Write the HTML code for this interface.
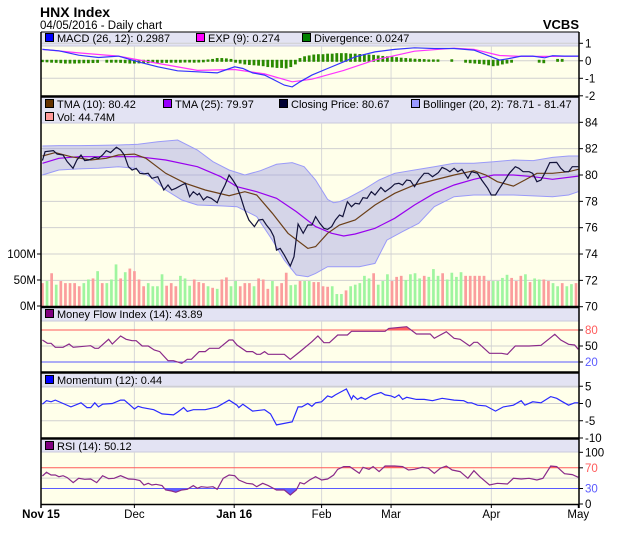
<!DOCTYPE html>
<html><head><meta charset="utf-8"><style>
html,body{margin:0;padding:0;background:#fff;}
svg{display:block;font-family:"Liberation Sans",Arial,sans-serif;}
</style></head><body>
<svg id="chart" width="620" height="535" viewBox="0 0 620 535" xmlns="http://www.w3.org/2000/svg">
<text x="40" y="17" font-size="14" font-weight="bold">HNX Index</text>
<text x="40" y="29" font-size="11.5">04/05/2016 - Daily chart</text>
<text x="579" y="29" font-size="13" font-weight="bold" text-anchor="end">VCBS</text>
<g id="layer"></g>
</svg>
<script>
// ---------- DATA ----------
const monthLabels = ["Nov 15","Dec","Jan 16","Feb","Mar","Apr","May"];
const monthDays = [0,20.3,42.0,61.0,76.1,97.9,116.8];
const monthBold = [1,0,1,0,0,0,0];

const priceT = [0.3,0.9,2.7,3.5,4.8,5.7,6.95,7.8,8.7,9.5,10.4,11.7,12.5,13.4,14.2,15.1,16.4,17.3,18.1,19.0,19.8,20.7,21.5,22.4,23.3,24.1,25.4,26.7,27.6,28.4,29.3,30.6,31.4,32.3,33.1,34.0,34.4,35.3,36.1,37.0,38.3,39.1,40.0,40.9,41.7,42.6,43.4,44.3,45.2,46.4,47.3,48.2,49.0,49.9,50.6,51.2,52.0,52.9,54.2,55.0,55.9,57.0,58.0,58.9,59.7,60.6,61.5,62.3,63.2,64.0,64.9,65.6,66.6,67.5,68.3,69.2,70.0,70.9,71.8,72.6,73.9,74.8,76.1,76.9,77.8,78.6,79.5,80.3,81.2,82.1,83.3,84.2,85.1,86.4,87.2,88.1,88.9,89.8,90.6,91.5,92.8,93.6,94.9,95.8,97.1,97.9,98.8,99.7,100.9,101.8,103.1,103.9,104.8,106.1,106.9,107.8,108.7,109.5,110.6,112.1,113.0,113.8,114.7,115.5,116.8];
const priceV = [81.09,81.77,81.85,81.59,81.52,81.01,80.51,81.14,81.52,81.09,81.14,81.34,81.27,81.52,81.85,81.70,82.10,81.90,81.52,80.63,80.38,80.51,80.13,80.08,80.13,79.75,79.87,78.86,79.24,78.86,78.99,79.24,79.37,78.35,78.73,78.48,78.61,78.10,78.35,78.23,77.90,78.61,79.24,80.00,79.62,79.11,78.35,77.34,76.58,76.08,76.58,76.63,76.20,75.82,75.32,74.30,74.43,73.92,73.09,73.80,76.28,75.57,76.20,76.20,76.84,76.33,75.95,75.87,76.08,76.58,76.96,76.84,77.97,77.59,77.85,77.80,78.28,78.23,78.73,78.48,79.06,78.73,79.06,79.32,79.37,79.24,79.62,79.57,79.11,79.62,80.13,80.13,79.87,80.18,80.58,80.43,80.25,80.51,80.25,80.43,79.75,80.25,80.13,79.62,78.99,78.48,78.48,78.99,79.62,80.13,80.63,80.51,80.25,80.25,80.13,79.49,79.62,80.13,80.94,80.96,80.51,80.25,80.25,80.63,80.63];

const tma10T = [0.3,3.1,6.5,10.8,14.2,16.8,20.3,22.8,27.1,31.4,35.7,40.9,44.3,46.9,50.3,53.7,58.0,59.7,62.3,64.9,68.3,72.6,76.9,81.2,85.5,89.8,94.1,96.7,99.2,102.7,105.2,107.8,111.2,114.7,116.8];
const tma10V = [81.44,81.70,81.39,81.14,81.27,81.52,81.59,81.27,80.13,79.37,78.86,78.43,78.73,78.48,77.09,75.57,74.43,74.56,75.57,76.20,76.58,77.72,78.61,79.24,79.62,80.00,80.33,80.00,79.49,79.16,79.62,80.13,80.13,80.25,80.43];
const tma25T = [0.3,3.9,8.2,16.8,21.1,27.1,34.0,39.1,42.6,46.9,51.2,55.5,59.7,63.2,65.8,68.3,72.6,76.9,81.2,85.5,89.8,94.1,98.4,102.7,107.0,111.2,116.8];
const tma25V = [80.89,81.27,81.39,81.39,81.39,81.14,80.63,79.87,79.11,78.73,78.23,77.22,76.08,75.57,75.37,75.52,75.95,76.71,77.72,78.61,79.24,79.67,80.00,80.00,79.87,79.67,79.92];
const bandUpT = [0.3,3.9,8.2,12.5,16.8,21.1,25.4,29.7,34.0,37.4,40.9,44.3,47.7,51.2,54.6,57.2,59.7,62.3,63.6,64.9,66.6,70.0,73.5,76.9,81.2,85.5,89.8,94.1,98.4,102.7,107.0,111.2,114.7,116.8];
const bandUpV = [82.20,82.23,82.23,82.25,82.28,82.33,82.53,82.66,81.90,81.01,80.38,80.00,80.33,80.81,80.94,80.63,79.62,78.15,77.90,77.97,78.23,78.86,79.62,80.13,80.38,80.63,80.89,80.89,81.01,81.14,81.09,81.34,81.44,81.44];
const bandLoT = [0.3,3.9,8.2,12.5,16.8,20.3,23.7,27.1,30.6,34.0,39.1,42.6,46.9,50.3,52.9,55.5,58.0,59.7,62.3,66.6,69.2,72.6,75.2,78.6,82.1,85.5,89.8,94.1,98.4,102.7,107.0,111.2,114.7,116.8];
const bandLoV = [80.00,80.38,80.46,80.51,80.63,80.51,79.87,78.86,78.10,77.72,77.65,77.59,76.84,75.06,73.54,72.41,72.28,72.53,73.04,73.04,73.04,73.29,75.06,75.70,76.33,77.59,78.35,78.48,78.48,78.48,78.41,78.35,78.48,78.73];

const volumeM = [44,48,63,41,48,44,44,44,38,44,51,53,67,44,44,51,80,53,65,72,67,51,38,44,38,38,61,39,44,38,58,53,39,51,46,44,38,35,33,51,55,38,48,38,44,44,38,53,51,33,48,38,44,64,40,41,48,48,48,46,46,38,37,38,23,23,30,38,41,44,58,53,63,41,48,61,48,56,58,50,61,63,53,58,56,71,58,63,51,64,56,65,58,58,58,58,58,48,48,48,54,60,54,48,58,61,46,53,51,51,48,44,38,44,38,42,44];
const volumeUp = [0,1,0,1,0,0,0,0,0,1,1,0,1,0,1,1,1,0,1,0,0,0,0,1,1,1,1,0,0,0,1,1,1,0,0,0,1,0,1,0,0,1,1,0,0,0,1,0,0,0,1,0,0,0,1,1,0,1,1,0,0,0,0,1,1,1,0,1,1,1,1,1,0,1,1,1,0,0,0,1,1,1,1,0,1,1,1,0,1,1,1,1,0,0,0,0,0,0,1,1,1,1,0,0,0,1,0,1,1,0,0,1,1,0,1,1,0];

const macdT = [0.3,3.9,8.2,12.5,16.8,21.1,25.4,29.7,34.0,38.3,40.4,42.1,43.9,46.0,48.6,51.2,52.9,54.6,56.3,58.9,62.3,65.8,68.3,72.6,76.9,81.2,85.5,89.8,94.1,97.5,99.7,101.8,104.4,106.9,109.5,111.2,113.8,116.8];
const macdV = [0.65,0.57,0.32,0.19,0.27,-0.06,-0.34,-0.57,-0.63,-0.69,-0.50,-0.34,-0.44,-0.69,-0.82,-1.16,-1.39,-1.49,-1.20,-0.82,-0.44,-0.06,0.23,0.51,0.65,0.74,0.70,0.70,0.61,0.27,0.04,0.13,0.27,0.27,0.17,0.29,0.27,0.27];
const expT = [0.3,8.2,16.8,25.4,34.0,42.1,48.6,54.6,58.9,65.8,72.6,81.2,89.8,94.1,99.7,104.4,111.2,116.8];
const expV = [0.65,0.45,0.27,-0.15,-0.55,-0.50,-0.75,-1.20,-1.05,-0.55,0.05,0.55,0.72,0.65,0.30,0.25,0.25,0.27];
const divergenceV = [-0.02,-0.03,-0.05,-0.06,-0.08,-0.10,-0.10,-0.10,-0.09,-0.08,-0.08,-0.07,-0.06,0,-0.05,-0.05,-0.05,-0.06,-0.08,-0.10,-0.10,-0.09,-0.08,-0.08,-0.07,-0.07,-0.06,-0.06,-0.05,-0.05,-0.05,-0.04,-0.04,-0.05,-0.04,-0.03,0.02,0.05,0.10,0.10,0.08,0.05,-0.05,-0.10,-0.15,-0.18,-0.20,-0.22,-0.25,-0.30,-0.32,-0.35,-0.35,-0.38,-0.30,-0.15,0.10,0.20,0.25,0.30,0.32,0.32,0.35,0.35,0.38,0.38,0.38,0.35,0.35,0.33,0.32,0.30,0.28,0.25,0.22,0.20,0.18,0.15,0.12,0.10,0.08,0.06,0.05,0.04,0.02,0.02,0.02,0,0,0.03,0,0,-0.05,-0.08,-0.10,-0.12,-0.15,-0.20,-0.25,-0.22,-0.15,-0.10,-0.05,0,0,0,0,0,-0.05,-0.08,0,0,0.05,0.05,0,0,0];

const mfiT = [0.3,1.4,2.2,3.1,4.8,6.1,7.0,10.8,11.7,12.5,14.7,15.5,17.3,18.5,19.8,20.7,22.0,23.3,24.6,25.8,27.6,28.8,30.6,31.8,32.7,34.4,35.7,36.6,38.7,40.9,41.7,42.6,44.7,46.0,46.9,47.7,48.6,49.4,51.1,52.9,54.2,56.3,58.9,60.2,61.5,62.7,64.5,66.6,67.5,70.9,74.8,75.6,79.5,81.6,83.8,84.6,85.5,88.1,89.8,91.1,93.2,94.1,94.9,97.5,100.1,101.4,103.1,106.1,108.7,111.7,113.0,114.7,116.0,116.8];
const mfiV = [61.3,55,55,47.5,47.5,53.75,47.5,50.6,45.6,45.6,62.5,53.75,68.8,62.5,60,60,50,50,42.5,39.4,22.5,22.5,17.5,25,25,39.4,39.4,45.6,45.6,61.3,61.3,51.9,39.4,39.4,34.4,34.4,39.4,34.4,34.4,34.4,25,39.4,58.1,68.8,56.25,56.25,70.6,70.6,77.5,77.5,77.5,83.1,86.3,72.5,72.5,72.5,64.4,76.9,64.4,62.5,50,56.9,56.9,36.3,36.3,34.4,50,50,51.3,71.9,61.3,53.1,51.9,43.75];

const momT = [0.3,1.2,2.2,3.1,4.8,6.5,8.7,10.0,10.8,11.7,12.5,13.4,15.5,17.3,18.1,19.4,20.3,21.1,22.0,24.5,26.3,28.8,29.7,31.0,31.8,33.1,35.7,38.3,40.9,42.6,43.0,43.9,46.0,48.6,49.9,51.2,54.6,55.9,56.7,58.0,58.9,59.7,61.0,62.3,63.2,64.0,65.8,66.4,67.5,67.9,68.8,69.6,70.5,72.2,73.9,74.8,76.1,76.9,77.8,78.6,79.5,81.6,83.3,85.1,87.2,89.8,91.9,92.8,93.6,94.9,96.7,98.8,100.5,102.7,104.4,105.2,106.9,108.7,110.8,112.1,113.4,114.7,116.0,116.8];
const momV = [-0.2,0.8,0.5,1.0,0,-1.0,0.2,-1.2,-1.2,0.2,-1.0,-0.2,0,1.0,1.0,-0.5,-1.6,-0.8,-1.2,-1.8,-3.0,-3.3,-2.5,-1.2,-2.3,-1.8,-1.8,-1.0,1.0,-0.5,-1.2,-0.2,-2.2,-1.8,-3.0,-6.2,-5.3,-1.0,-1.0,0,-0.8,0.2,0.5,2.2,1.8,2.5,3.8,4.2,1.2,2.3,1.2,1.8,1.2,2.5,3.2,2.5,2.2,1.7,2.5,1.2,1.8,1.2,1.2,0.8,1.5,1.0,0.8,0.2,0.2,-0.5,-0.7,-2.2,-1.0,-0.5,0.8,-0.5,0.5,0.2,2.0,1.5,0.5,-0.5,0.2,0.2];

const rsiT = [0.3,1.2,2.2,3.1,3.9,4.8,5.7,7.0,8.2,9.5,10.8,12.1,13.4,14.7,15.9,17.3,19.0,20.3,21.5,22.4,23.3,24.1,25.0,26.3,27.1,28.4,29.3,30.6,31.8,33.1,34.0,34.8,36.1,37.4,38.3,39.6,40.9,42.1,43.0,44.7,46.0,46.9,48.2,49.4,51.2,52.9,54.2,55.5,56.3,57.2,58.4,59.7,61.0,62.3,63.6,64.5,65.8,67.1,69.2,70.0,71.3,72.2,73.5,74.8,76.9,78.6,79.9,81.2,82.9,84.2,85.5,86.8,88.1,89.4,91.1,92.8,94.1,95.4,97.5,99.2,101.4,102.7,104.4,106.1,107.8,109.1,110.8,112.1,113.8,115.5,116.8];
const rsiV = [54.2,61.3,56.1,56.1,52.9,54.8,51,41.3,49.7,47.7,48.4,41.3,54.8,49,49.7,54.8,48.4,47.7,45.2,36.8,40,36.8,38.1,35.5,27.1,25.2,22.6,27.1,28.4,35.5,30.3,33.5,32.3,33.5,28.4,49.7,56.1,54.8,46.5,40,38.7,33.5,40,35.5,27.1,27.1,17.4,27.1,41.3,38.7,46.5,52.9,46.5,48.4,56.1,67.1,72.3,72.3,59.4,71,67.1,72.3,62.6,73.5,73.5,72.3,65.8,67.1,71,69,59.4,69,73.5,65.8,62.6,49.7,64.5,52.9,36.8,40,38.7,49.7,48.4,49.7,46.5,49.7,73.5,72.3,58.7,56.8,51.6];

// ---------- LAYOUT ----------
const NS = "http://www.w3.org/2000/svg";
const L = 41, R = 579;
const xT = t => L + t * 4.6;
const yPrice = v => 175 - (v - 80) * 13.17;
const yVol = m => 306 - m * 0.52;
const yMacd = v => 60.8 - v * 17.5;
const yMfi = v => 346 - (v - 50) * 0.533;
const yMom = v => 403.5 - v * 3.45;
const yRsi = v => 504 - v * 0.517;
const layer = document.getElementById("layer");

function mk(tag, attrs, parent) {
  const e = document.createElementNS(NS, tag);
  for (const k in attrs) e.setAttribute(k, attrs[k]);
  (parent || layer).appendChild(e);
  return e;
}
function pts(T, V, yf) { return T.map((t, i) => xT(t).toFixed(1) + "," + yf(V[i]).toFixed(1)).join(" "); }

const panels = [
  {name: "macd-panel", top: 32, head: 46, bottom: 96},
  {name: "price-panel", top: 97, head: 123, bottom: 306},
  {name: "mfi-panel", top: 308, head: 321, bottom: 372},
  {name: "momentum-panel", top: 374, head: 387, bottom: 438},
  {name: "rsi-panel", top: 440, head: 452, bottom: 504}
];
panels.forEach(p => {
  const h = mk("rect", {x: L, y: p.top, width: R - L, height: p.head - p.top, fill: "#e3e3f3"});
  
  
  const b = mk("rect", {x: L, y: p.head, width: R - L, height: p.bottom - p.head, fill: "#ffffea"});
  
  
  mk("line", {x1: L, y1: p.head, x2: R, y2: p.head, stroke: "#c8c8dc", "stroke-width": 1});
});
monthDays.forEach((d, i) => {
  if (i === 0 || i === monthDays.length - 1) return;
  panels.forEach(p => mk("line", {x1: xT(d), y1: p.head, x2: xT(d), y2: p.bottom, stroke: "#d8d8d8", "stroke-width": 1}));
});

function hgrid(y, color) { mk("line", {x1: L, y1: y, x2: R, y2: y, stroke: color || "#d0d0d0", "stroke-width": 1}); }
function rlabel(y, txt, color, name) {
  mk("line", {x1: R, y1: y, x2: R + 4, y2: y, stroke: "#000"});
  const t = mk("text", {x: R + 6, y: y + 4, "font-size": 11.5, fill: color || "#000"});
  t.textContent = txt;
  
  
}

// ---------- MACD panel ----------
[1, 0, -1].forEach(v => hgrid(yMacd(v)));
[1, 0, -1, -2].forEach(v => rlabel(yMacd(v), String(v), null, 'macd-axis-tick'));
divergenceV.forEach((v, i) => {
  if (v === 0) return;
  const y0 = yMacd(0), y1 = yMacd(v);
  const r = mk("rect", {x: xT(i + 0.3) - 1.4, y: Math.min(y0, y1) - 1, width: 2.8, height: Math.abs(y1 - y0) + 2, fill: "#2a8a00"});
  
  
});
let e1 = mk("polyline", {points: pts(expT, expV, yMacd), fill: "none", stroke: "#ff33ff", "stroke-width": 1.2});


let m1 = mk("polyline", {points: pts(macdT, macdV, yMacd), fill: "none", stroke: "#3333ff", "stroke-width": 1.2});



// ---------- Price panel ----------
[72, 74, 76, 78, 80, 82].forEach(v => hgrid(yPrice(v)));
[70, 72, 74, 76, 78, 80, 82, 84].forEach(v => rlabel(yPrice(v), String(v), null, 'price-axis-tick'));
[[0, "0M"], [50, "50M"], [100, "100M"]].forEach(a => {
  mk("line", {x1: L - 4, y1: yVol(a[0]), x2: L, y2: yVol(a[0]), stroke: "#000"});
  const t = mk("text", {x: L - 5, y: yVol(a[0]) + 4, "font-size": 11.5, "text-anchor": "end"});
  t.textContent = a[1];
  
  
});
volumeM.forEach((v, i) => {
  const r = mk("rect", {x: xT(i + 0.3) - 1.3, y: yVol(v), width: 2.7, height: 306 - yVol(v), fill: volumeUp[i] ? "#9ff59f" : "#fb9d9d"});
  
  
});
const bandPts = pts(bandUpT, bandUpV, yPrice) + " " + bandLoT.map((t, i) => xT(t).toFixed(1) + "," + yPrice(bandLoV[i]).toFixed(1)).reverse().join(" ");
let bd = mk("polygon", {points: bandPts, fill: "rgba(150,150,230,0.4)", stroke: "none"});


mk("polyline", {points: pts(bandUpT, bandUpV, yPrice), fill: "none", stroke: "#9a9af8", "stroke-width": 1});
mk("polyline", {points: pts(bandLoT, bandLoV, yPrice), fill: "none", stroke: "#9a9af8", "stroke-width": 1});
let t25 = mk("polyline", {points: pts(tma25T, tma25V, yPrice), fill: "none", stroke: "#9900ee", "stroke-width": 1.2});


let t10 = mk("polyline", {points: pts(tma10T, tma10V, yPrice), fill: "none", stroke: "#6b3f18", "stroke-width": 1.2});


let cp = mk("polyline", {points: pts(priceT, priceV, yPrice), fill: "none", stroke: "#12123a", "stroke-width": 1.2});



// ---------- threshold fill helper ----------
let clipN = 0;
function fillBeyond(T, V, yf, thr, above, color, top, bottom) {
  const id = "clip" + (clipN++);
  const cpth = mk("clipPath", {id: id});
  const yt = yf(thr);
  mk("rect", above ? {x: L, y: top, width: R - L, height: yt - top} : {x: L, y: yt, width: R - L, height: bottom - yt}, cpth);
  const p = pts(T, V, yf) + " " + xT(T[T.length - 1]).toFixed(1) + "," + yt + " " + xT(T[0]).toFixed(1) + "," + yt;
  const f = mk("polygon", {points: p, fill: color, "clip-path": "url(#" + id + ")"});
  
  
}

// ---------- MFI ----------
hgrid(yMfi(50));
hgrid(yMfi(80), "#ff5a5a");
hgrid(yMfi(20), "#5a5aff");
rlabel(yMfi(80), "80", "#ff5a5a", 'mfi-axis-tick');
rlabel(yMfi(50), "50", null, 'mfi-axis-tick');
rlabel(yMfi(20), "20", "#5a5aff", 'mfi-axis-tick');
fillBeyond(mfiT, mfiV, yMfi, 80, true, "#ff6060", 321, 372);
fillBeyond(mfiT, mfiV, yMfi, 20, false, "#6060ff", 321, 372);
let mf = mk("polyline", {points: pts(mfiT, mfiV, yMfi), fill: "none", stroke: "#8a2a8a", "stroke-width": 1.2});



// ---------- Momentum ----------
[5, 0, -5].forEach(v => hgrid(yMom(v)));
[5, 0, -5, -10].forEach(v => rlabel(yMom(v), String(v), null, 'momentum-axis-tick'));
let mo = mk("polyline", {points: pts(momT, momV, yMom), fill: "none", stroke: "#2a2aff", "stroke-width": 1.2});



// ---------- RSI ----------
hgrid(yRsi(50));
hgrid(yRsi(70), "#ff5a5a");
hgrid(yRsi(30), "#5a5aff");
rlabel(yRsi(100), "100", null, 'rsi-axis-tick');
rlabel(yRsi(70), "70", "#ff5a5a", 'rsi-axis-tick');
rlabel(yRsi(30), "30", "#5a5aff", 'rsi-axis-tick');
rlabel(yRsi(0), "0", null, 'rsi-axis-tick');
fillBeyond(rsiT, rsiV, yRsi, 70, true, "#ff6060", 452, 504);
fillBeyond(rsiT, rsiV, yRsi, 30, false, "#6060ff", 452, 504);
let rs = mk("polyline", {points: pts(rsiT, rsiV, yRsi), fill: "none", stroke: "#8a2a8a", "stroke-width": 1.2});



// ---------- frames ----------
mk("line", {x1: L, y1: 32, x2: L, y2: 508, stroke: "#000", "stroke-width": 1.5});
mk("line", {x1: R, y1: 32, x2: R, y2: 508, stroke: "#000", "stroke-width": 1.5});
mk("line", {x1: L, y1: 32, x2: R, y2: 32, stroke: "#000", "stroke-width": 1});
[96.5, 307, 372.5, 438.5].forEach(y => mk("line", {x1: L, y1: y, x2: R, y2: y, stroke: "#000", "stroke-width": 2.5}));
mk("line", {x1: L, y1: 504.5, x2: R, y2: 504.5, stroke: "#000", "stroke-width": 1.5});

monthLabels.forEach((lab, i) => {
  const x = xT(monthDays[i]);
  mk("line", {x1: x, y1: 504, x2: x, y2: 508, stroke: "#000"});
  const t = mk("text", {x: x, y: 518, "font-size": 11.5, "text-anchor": "middle", "font-weight": monthBold[i] ? "bold" : "normal"});
  t.textContent = lab;
  
  
});

// ---------- legends ----------
const legends = [
  ["macd-legend", 45, 42, "#0000ff", "MACD (26, 12): 0.2987"],
  ["exp-legend", 196, 42, "#ff00ff", "EXP (9): 0.274"],
  ["divergence-legend", 302, 42, "#008000", "Divergence: 0.0247"],
  ["tma10-legend", 45, 108, "#663300", "TMA (10): 80.42"],
  ["tma25-legend", 163, 108, "#9900ff", "TMA (25): 79.97"],
  ["closing-price-legend", 279, 108, "#000033", "Closing Price: 80.67"],
  ["bollinger-legend", 411, 108, "#9999ff", "Bollinger (20, 2): 78.71 - 81.47"],
  ["volume-legend", 45, 121, "#ff9999", "Vol: 44.74M"],
  ["mfi-legend", 45, 318, "#800080", "Money Flow Index (14): 43.89"],
  ["momentum-legend", 45, 384, "#0000ff", "Momentum (12): 0.44"],
  ["rsi-legend", 45, 450, "#800080", "RSI (14): 50.12"]
];
legends.forEach(l => {
  const g = mk("g", {});
  
  
  mk("rect", {x: l[1] + 0.5, y: l[2] - 8.5, width: 8, height: 8, fill: l[3], stroke: "#000", "stroke-width": 1}, g);
  const t = mk("text", {x: l[1] + 12, y: l[2], "font-size": 11}, g);
  t.textContent = l[4];
});
</script>
</body></html>
